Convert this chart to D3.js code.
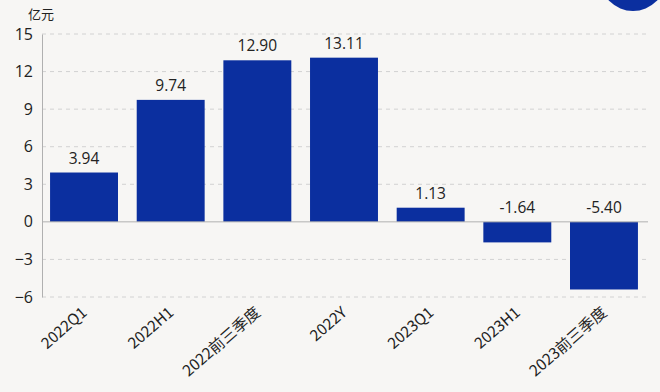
<!DOCTYPE html>
<html><head><meta charset="utf-8">
<script src="https://cdn.jsdelivr.net/npm/d3@7"></script>
<style>
html,body{margin:0;padding:0;background:#f7f6f4;}
svg{display:block;font-family:"Noto Sans CJK SC","Open Sans",sans-serif;}
</style></head><body>
<svg id="c" width="660" height="392"></svg>
<script>
const categories = ["2022Q1","2022H1","2022前三季度","2022Y","2023Q1","2023H1","2023前三季度"];
const values = [3.94, 9.74, 12.90, 13.11, 1.13, -1.64, -5.40];
const valueLabels = ["3.94","9.74","12.90","13.11","1.13","-1.64","-5.40"];
const yTicks = [-6,-3,0,3,6,9,12,15];
const unit = "亿元";

const svg = d3.select("#c");
const W = 660, H = 392;
svg.append("rect").attr("width",W).attr("height",H).attr("fill","#f7f6f4");
// logo corner
svg.append("circle").attr("cx",633).attr("cy",-22).attr("r",33).attr("fill","#0b2f9f");

const x = d3.scaleBand().domain(categories).range([40.7,647.3]).paddingInner(0.216).paddingOuter(0.108);
const y = d3.scaleLinear().domain([-6,15]).range([297,34]);

// gridlines
svg.append("g").selectAll("line").data(yTicks.filter(t=>t!==0)).join("line")
  .attr("x1",42).attr("x2",648).attr("y1",d=>y(d)).attr("y2",d=>y(d))
  .attr("stroke","#d2d2d2").attr("stroke-dasharray","4,4").attr("stroke-width",1);

// y axis
const yAxis = d3.axisLeft(y).tickValues(yTicks).tickSize(0).tickPadding(9).tickFormat(d3.format("d"));
const gy = svg.append("g").attr("transform","translate(42,0)").call(yAxis);
gy.select(".domain").attr("stroke","#b0b0b0");
gy.selectAll("text").attr("font-size",16).attr("fill","#222").attr("font-family","'Open Sans',sans-serif");

// bars
svg.append("g").selectAll("rect").data(values).join("rect")
  .attr("x",(d,i)=>x(categories[i]))
  .attr("width",x.bandwidth())
  .attr("y",d=>y(Math.max(0,d)))
  .attr("height",d=>Math.abs(y(d)-y(0)))
  .attr("fill","#0b2f9f");

// zero line
svg.append("line").attr("x1",42).attr("x2",648).attr("y1",y(0)).attr("y2",y(0)).attr("stroke","#b0b0b0");

// value labels
svg.append("g").selectAll("text").data(values).join("text")
  .attr("x",(d,i)=>x(categories[i])+x.bandwidth()/2)
  .attr("y",d=>y(Math.max(0,d))-9)
  .attr("text-anchor","middle").attr("font-size",15.5).attr("fill","#222")
  .attr("font-family","'Open Sans',sans-serif")
  .text((d,i)=>valueLabels[i]);

// x labels
svg.append("g").selectAll("text").data(categories).join("text")
  .attr("transform",d=>`translate(${x(d)+x.bandwidth()/2+4},314) rotate(-41)`)
  .attr("text-anchor","end").attr("font-size",15.5).attr("fill","#222")
  .text(d=>d);

// unit
svg.append("text").attr("x",28).attr("y",19).attr("font-size",13).attr("fill","#222").text(unit);
</script>
</body></html>
